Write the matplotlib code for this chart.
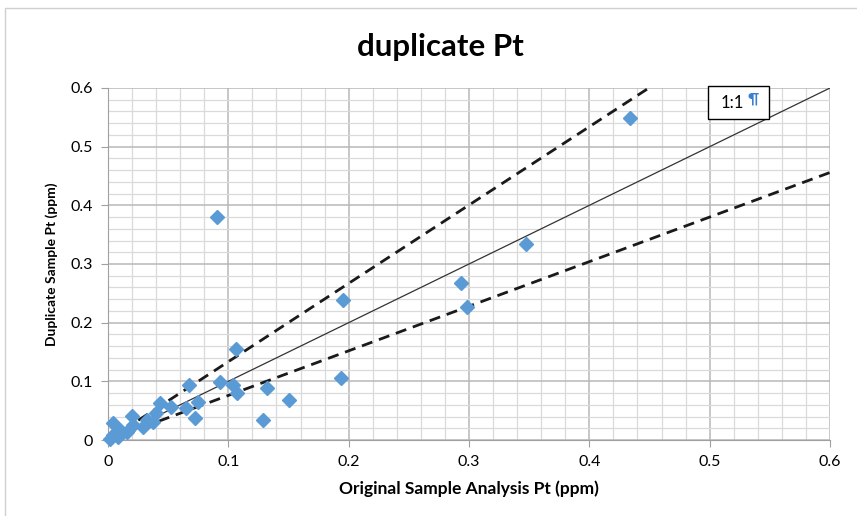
import matplotlib
matplotlib.use("Agg")
import matplotlib.pyplot as plt
import numpy as np
from matplotlib.patches import Rectangle

plt.rcParams['font.family'] = ['Lato', 'DejaVu Sans']

original_pt = [0.434, 0.0906, 0.347, 0.195, 0.293, 0.298, 0.106, 0.194, 0.150, 0.129,
               0.132, 0.107, 0.104, 0.093, 0.067, 0.075, 0.072, 0.065, 0.052, 0.043,
               0.040, 0.032, 0.037, 0.020, 0.021, 0.029, 0.004, 0.010, 0.004, 0.016,
               0.002, 0.008]
duplicate_pt = [0.549, 0.380, 0.334, 0.239, 0.268, 0.227, 0.155, 0.106, 0.068, 0.034,
                0.089, 0.080, 0.094, 0.099, 0.094, 0.065, 0.037, 0.054, 0.057, 0.063,
                0.046, 0.034, 0.031, 0.041, 0.026, 0.022, 0.029, 0.017, 0.009, 0.014,
                0.001, 0.005]
upper_slope = 1.335
lower_slope = 0.76
line_x = [0.0, 0.6]
x_ticks = [0, 0.1, 0.2, 0.3, 0.4, 0.5, 0.6]
y_ticks = [0, 0.1, 0.2, 0.3, 0.4, 0.5, 0.6]
tick_labels = ['0', '0.1', '0.2', '0.3', '0.4', '0.5', '0.6']

fig = plt.figure(figsize=(8.57, 5.16), dpi=100)
ax = fig.add_axes([108/857, 1-440/516, (830-108)/857, (440-88)/516])

# frame around the chart area
fig.patches.append(Rectangle((5/857, -0.1), 1.2, 1 - 8/516 + 0.1, transform=fig.transFigure,
                             fill=False, edgecolor='#d0d0d0', linewidth=1.0))

ax.set_xlim(0, 0.6)
ax.set_ylim(0, 0.6)
ax.set_xticks(x_ticks)
ax.set_xticklabels(tick_labels)
ax.set_yticks(y_ticks)
ax.set_yticklabels(tick_labels)
ax.set_xticks(np.arange(0, 0.6001, 0.02), minor=True)
ax.set_yticks(np.arange(0, 0.6001, 0.02), minor=True)
ax.grid(which='minor', color='#dadada', linewidth=0.9)
ax.grid(which='major', color='#b8b8b8', linewidth=1.1)
ax.set_axisbelow(True)
for s in ['top', 'right']:
    ax.spines[s].set_visible(False)
for s in ['left', 'bottom']:
    ax.spines[s].set_color('#a0a0a0')
ax.tick_params(which='major', length=5, color='#a0a0a0', labelsize=11.5, pad=6)
ax.tick_params(which='minor', length=0)

lx = np.array(line_x)
ax.plot(lx, lx, color='#333333', linewidth=0.9, zorder=3)
ax.plot(lx, upper_slope * lx, color='#1a1a1a', linewidth=2.0, linestyle=(0, (4, 2.5)), zorder=3)
ax.plot(lx, lower_slope * lx, color='#1a1a1a', linewidth=2.0, linestyle=(0, (4, 2.5)), zorder=3)

ax.plot(original_pt, duplicate_pt, linestyle='none', marker='D', markersize=7.5,
        color='#5b9bd5', zorder=4, clip_on=False)

ax.text(0.519, 0.575, '1:1', ha='center', va='center', fontsize=12, zorder=6)
ax.text(0.5365, 0.581, '¶', ha='center', va='center', fontsize=11, fontweight='bold',
        color='#3b7fd0', zorder=6)
ax.add_patch(Rectangle((0.499, 0.547), 0.0505, 0.056, facecolor='white', edgecolor='black',
                       linewidth=1.0, zorder=5, clip_on=False))

fig.text(440/857, 1-47/516, 'duplicate Pt', ha='center', va='center', fontsize=22.5,
         fontweight='bold')
ax.set_xlabel('Original Sample Analysis Pt (ppm)', fontsize=12.5, fontweight='bold', labelpad=8)
ax.set_ylabel('Duplicate Sample Pt (ppm)', fontsize=10, fontweight='bold', labelpad=9)

fig.savefig('out.png', dpi=100)
